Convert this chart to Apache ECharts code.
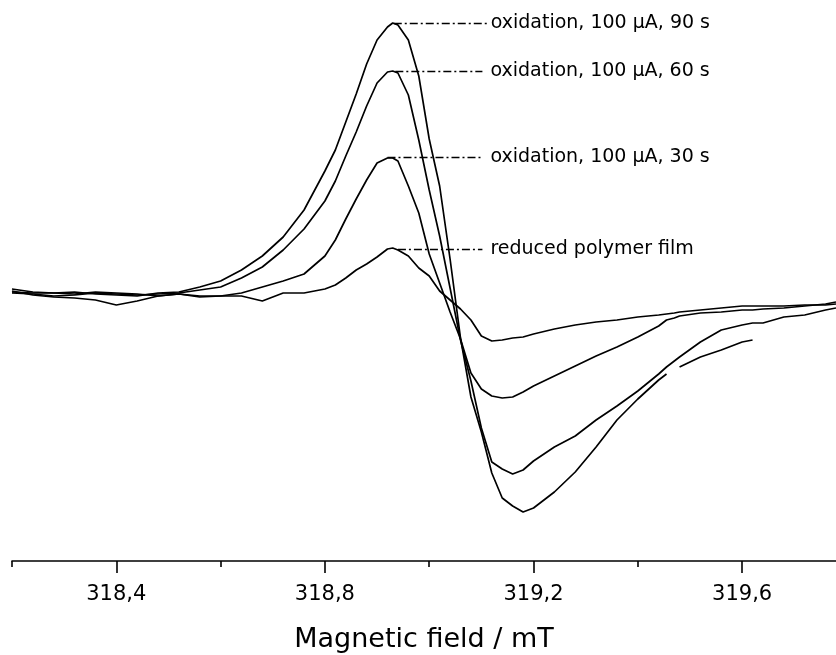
<!DOCTYPE html>
<html>
<head>
<meta charset="utf-8">
<script src="https://cdn.jsdelivr.net/npm/echarts@6/dist/echarts.min.js"></script>
<style>
html,body{margin:0;padding:0;background:#fff;}
#chart{width:836px;height:655px;}
</style>
</head>
<body>
<div id="chart"></div>
<script>
// Magnetic field (mT)
const field = [318.20,318.24,318.28,318.32,318.36,318.40,318.44,318.48,318.52,318.56,
  318.60,318.64,318.68,318.72,318.76,318.80,318.82,318.84,318.86,318.88,
  318.90,318.92,318.93,318.94,318.96,318.98,319.00,319.02,319.04,319.06,
  319.08,319.10,319.12,319.14,319.16,319.18,319.20,319.24,319.28,319.32,
  319.36,319.40,319.44,319.455,319.47,319.48,319.52,319.56,319.60,319.62,
  319.64,319.68,319.72,319.76,319.78];

// EPR signal (arbitrary units)
const ox90 = [3,0,-1,0,-2,-3,-4,-1,0,5,
  11,22,36,55,82,121,142,170,198,228,
  252,265,269,267,252,216,153,106,33,-46,
  -105,-140,-181,-206,-214,-220,-216,-200,-180,-155,
  -128,-107,-88,-82,null,-75,-65,-58,-50,-48,
  null,null,null,null,null];

const ox60 = [-1,-2,-4,-3,-1,-2,-3,-2,-1,2,
  5,14,25,42,63,91,111,136,160,186,
  209,220,221,219,197,152,102,56,4,-48,
  -89,-136,-170,-177,-182,-178,-169,-155,-144,-128,
  -114,-99,-82,-75,-69,-65,-50,-38,-33,-31,
  -31,-25,-23,-18,-16];

const ox30 = [0,-1,-1,-2,0,-1,-2,-4,-2,-4,
  -4,-1,5,11,18,36,52,73,93,112,
  129,134,134,131,106,79,38,9,-20,-47,
  -81,-97,-104,-106,-105,-100,-94,-84,-74,-64,
  -55,-45,-34,-28,-26,-24,-21,-20,-18,-18,
  -17,-16,-14,-12,-10];

const reduced = [1,-3,-5,-6,-8,-13,-9,-4,-2,-5,
  -4,-4,-9,-1,-1,3,7,14,22,28,
  35,43,44,42,36,24,16,1,-8,-17,
  -28,-44,-49,-48,-46,-45,-42,-37,-33,-30,
  -28,-25,-23,-22,-21,-20,-18,-16,-14,-14,
  -14,-14,-13,-13,-12];

// Tick values
const majorTicks = [318.4, 318.8, 319.2, 319.6];
const minorTicks = [318.2, 318.6, 319.0, 319.4];

// Annotations
const annText = ['oxidation, 100 \u03bcA, 90 s', 'oxidation, 100 \u03bcA, 60 s',
                 'oxidation, 100 \u03bcA, 30 s', 'reduced polymer film'];
const annStart = [318.932, 318.935, 318.920, 318.940];
const annEnd = [319.114, 319.102, 319.102, 319.102];
const annLevel = [269, 221, 135, 43];

const FONT = 'DejaVu Sans';
const seriesValues = [ox90, ox60, ox30, reduced];
const annGap = [2, 8, 8, 8];

const chart = echarts.init(document.getElementById('chart'), null, {renderer: 'canvas'});

const series = seriesValues.map((vals, k) => ({
  type: 'line',
  xAxisIndex: 0,
  yAxisIndex: 0,
  data: field.map((b, i) => [b, vals[i]]),
  showSymbol: false,
  symbol: 'none',
  connectNulls: false,
  lineStyle: {color: '#000', width: 1.7},
  silent: true,
  markLine: {
    silent: true,
    symbol: ['none', 'none'],
    animation: false,
    lineStyle: {color: '#000', width: 1.3, type: [8, 3, 2, 3]},
    label: {
      show: true,
      position: 'end',
      distance: annGap[k],
      formatter: annText[k],
      color: '#000',
      fontFamily: FONT,
      fontSize: 19
    },
    emphasis: {disabled: true},
    data: [[{coord: [annStart[k], annLevel[k]]}, {coord: [annEnd[k], annLevel[k]]}]]
  }
}));

chart.setOption({
  animation: false,
  backgroundColor: '#fff',
  grid: {left: 12, right: 0, top: 0, bottom: 94, containLabel: false, outerBoundsMode: 'none'},
  xAxis: [{
    type: 'value',
    min: 318.2,
    max: 319.78,
    position: 'bottom',
    axisLine: {show: true, onZero: false, lineStyle: {color: '#000', width: 1.6}},
    axisTick: {show: true, customValues: majorTicks, length: 12, lineStyle: {color: '#000', width: 1.6}},
    axisLabel: {
      show: true,
      customValues: majorTicks,
      formatter: v => v.toFixed(1).replace('.', ','),
      color: '#000',
      fontFamily: FONT,
      fontSize: 21,
      margin: 23
    },
    splitLine: {show: false},
    name: 'Magnetic field / mT',
    nameLocation: 'middle',
    nameGap: 65,
    nameTextStyle: {color: '#000', fontFamily: FONT, fontSize: 27}
  }, {
    type: 'value',
    min: 318.2,
    max: 319.78,
    position: 'bottom',
    offset: 0,
    axisLine: {show: false, onZero: false},
    axisTick: {show: true, customValues: minorTicks, length: 6, lineStyle: {color: '#000', width: 1.6}},
    axisLabel: {show: false},
    splitLine: {show: false}
  }],
  yAxis: {
    type: 'value',
    min: -269,
    max: 292,
    show: false,
    splitLine: {show: false}
  },
  series: series
});
</script>
</body>
</html>
